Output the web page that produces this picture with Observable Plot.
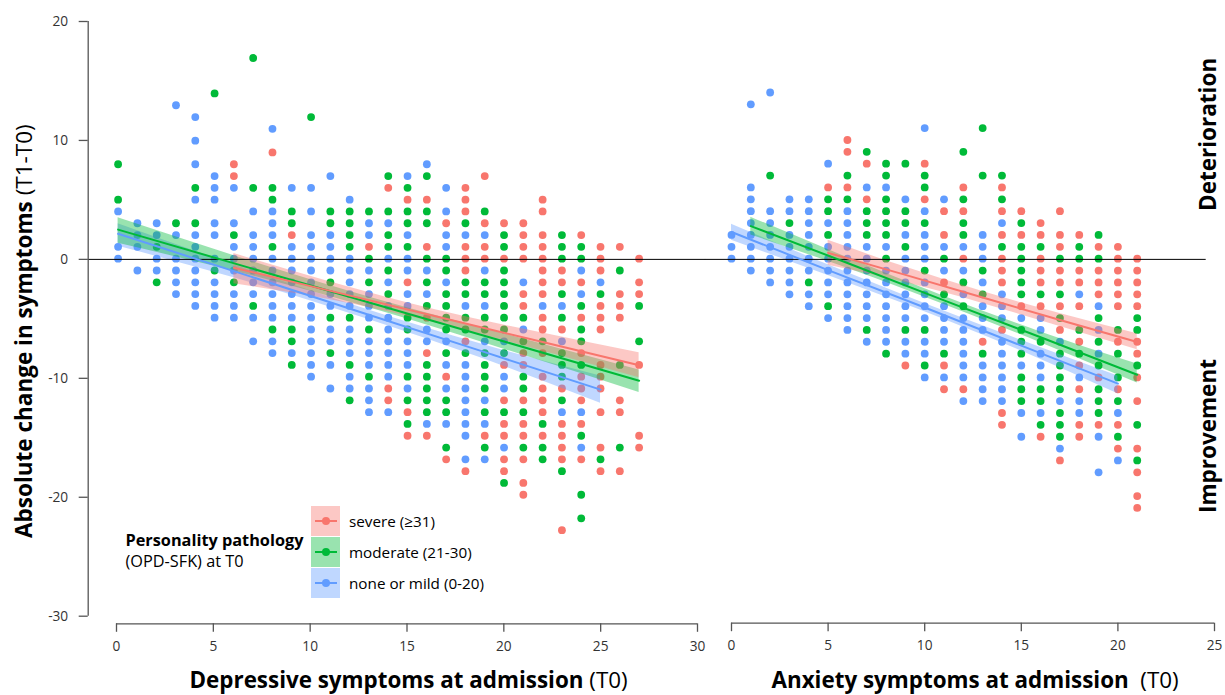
<!DOCTYPE html>
<html><head><meta charset="utf-8">
<script src="https://cdn.jsdelivr.net/npm/d3@7"></script>
<script src="https://cdn.jsdelivr.net/npm/@observablehq/plot@0.6"></script>
<style>
html,body{margin:0;padding:0;background:#fff;overflow:hidden}
#c{position:relative;width:1225px;height:695px;font-family:"Open Sans",sans-serif;overflow:hidden}
#c svg{position:absolute;top:0;background:transparent;overflow:visible}
.t{position:absolute;white-space:nowrap;line-height:1;color:#000}
.r{transform-origin:0 0;transform:rotate(-90deg)}
.b{font-weight:700}
.k{position:absolute;left:311px;width:29px;height:29.6px}
.k i{position:absolute;left:4px;right:3px;top:14px;height:2px}
.k b{position:absolute;left:11px;top:11px;width:8px;height:8px;border-radius:50%}
</style></head><body><div id="c"></div>
<script>
const colors = {severe:"#F8766D", moderate:"#00BA38", none:"#619CFF"};
const legendLabels = ["severe (\u226531)","moderate (21-30)","none or mild (0-20)"];

// [x, [y values]] – left panel, depressive symptoms
const depNone = [[0,[4,1,0]],[1,[3,2,1,-1]],[2,[3,2,0,-1]],[3,[13,2,0,-1,-2,-3]],[4,[12,10,8,5,2,1,0,-1,-2,-3,-4]],[5,[7,6,5,3,2,0,-2,-3,-4,-5]],[6,[6,3,1,0,-1,-3,-4,-5]],[7,[4,2,1,0,-1,-2,-3,-5,-7]],[8,[11,4,3,2,0,-1,-2,-3,-4,-5,-7,-8]],[9,[6,1,0,-1,-2,-3,-4,-5,-8]],[10,[6,4,2,1,0,-1,-2,-3,-4,-5,-6,-7,-8,-9,-10]],[11,[7,2,1,0,-1,-3,-4,-6,-7,-9,-11]],[12,[5,0,-1,-2,-3,-4,-6,-7,-8,-10,-11]],[13,[3,2,-1,-3,-4,-5,-7,-8,-9,-11,-12,-13]],[14,[3,0,-2,-4,-5,-6,-7,-8,-9,-10,-13]],[15,[7,2,0,-1,-3,-4,-7,-8,-9,-11]],[16,[8,-1,-3,-6,-7,-14]],[17,[6,4,2,1,-2,-7,-9,-11,-14]],[18,[2,-4,-9,-10,-11,-12,-13,-14,-15,-17]],[19,[2,-1,-4,-7,-12,-14,-17]],[20,[-7,-10,-11,-16]],[21,[-2,-6]],[22,[-4]],[23,[-4,-7,-13]],[24,[-1,-3,-13,-16]],[25,[-2]]];
const depModerate = [[0,[8,5]],[2,[1,-2]],[3,[3]],[4,[6,3]],[5,[14,-1]],[6,[2,-2]],[7,[17,6,-4]],[8,[6,5,1,-6]],[9,[4,3,-6,-7,-9]],[10,[12]],[11,[4,3,-2,-5,-8]],[12,[4,3,2,1,-5,-9,-12]],[13,[4,0,-2,-6,-10]],[14,[7,4,2,1,-1,-3]],[15,[6,4,3,1,-5,-6,-10,-12,-14]],[16,[7,4,3,0,-2,-4,-9,-10,-11,-12,-13]],[17,[0,-1,-3,-4,-5,-6,-8,-12,-13,-16]],[18,[3,-2,-3,-5,-6,-8]],[19,[4,-2,-3,-5,-6,-8,-9,-10,-11,-13,-16]],[20,[2,1,-1,-2,-3,-4,-5,-6,-8,-13,-19]],[21,[-5,-7,-10,-11,-13,-16]],[22,[-7,-14,-16,-17]],[23,[2,1,0,-3,-5,-8,-9,-10,-12,-18]],[24,[1,0,-4,-6,-7,-9,-15,-20,-22]],[25,[-3,-17]],[26,[-1,-9,-16]],[27,[-4,-7]]];
const depSevere = [[6,[8,7]],[8,[9]],[9,[2]],[13,[1]],[14,[6,-11,-12]],[15,[5,-2,-13,-15]],[16,[5,1,-5,-8,-15]],[17,[3,-10,-17]],[18,[6,5,4,1,0,-1,-7,-18]],[19,[7,3,1,0,-15]],[20,[3,0,-9,-12,-14,-15,-17,-18]],[21,[3,2,1,0,-3,-4,-8,-9,-12,-14,-15,-17,-19,-20]],[22,[5,4,2,1,0,-1,-2,-3,-5,-6,-8,-10,-11,-12,-13,-15]],[23,[-1,-2,-6,-11,-14,-15,-16,-17,-23]],[24,[2,-2,-5,-8,-10,-11,-12,-14,-17]],[25,[1,0,-1,-4,-5,-6,-9,-10,-11,-13,-16,-18]],[26,[1,-3,-4,-5,-12,-13,-18]],[27,[0,-2,-3,-9,-15,-16]]];

// right panel, anxiety symptoms
const anxNone = [[0,[2,1,0]],[1,[13,6,5,4,3,2,1,0,-1]],[2,[14,4,3,2,1,0,-1,-2]],[3,[5,4,2,1,0,-1,-2,-3]],[4,[5,4,3,2,1,0,-1,-3,-4]],[5,[8,3,1,0,-1,-2,-3,-5]],[6,[4,3,2,1,0,-1,-2,-3,-4,-5,-6]],[7,[6,1,0,-1,-2,-3,-4,-5,-7]],[8,[6,1,-1,-2,-3,-4,-5,-6,-7]],[9,[5,2,0,-1,-2,-3,-4,-5,-7,-8]],[10,[11,4,2,1,0,-2,-3,-4,-5,-7,-8,-10]],[11,[5,1,-1,-4,-5,-6,-7,-10]],[12,[1,-1,-3,-5,-6,-7,-8,-9,-10,-12]],[13,[2,1,0,-2,-4,-5,-6,-9,-10,-11,-12]],[14,[3,-3,-4,-5,-7,-8,-9,-10,-11,-12]],[15,[-5,-9,-13,-15]],[16,[-5,-6,-8,-9,-10,-13]],[17,[-7,-12,-16]],[18,[-3,-10,-12,-13]],[19,[-4,-6,-8,-15,-18]],[20,[-13,-17]]];
const anxModerate = [[2,[7]],[3,[3]],[4,[-2]],[5,[5,4,2,-4]],[6,[7,5]],[7,[9,4,3,2,-6]],[8,[8,7,5,4,3,2,0,-8]],[9,[8,4,3,1,-6]],[10,[7,6,3,-1,-6,-9]],[11,[0,-3,-8]],[12,[9,5,3,2,-2,-4]],[13,[11,7,-1,-3,-8]],[14,[7,5,1]],[15,[3,1,0,-1,-2,-3,-6,-7,-8,-10,-11,-12]],[16,[1,-3,-7,-11,-12,-14]],[17,[0,-3,-5,-8,-9,-10,-11,-13,-14,-15]],[18,[1,0,-6,-8]],[19,[2,0,-5,-7,-9,-11,-12,-13]],[20,[-6,-8,-10,-12,-15]],[21,[-5,-6,-9,-14,-17]]];
const anxSevere = [[5,[6]],[6,[10,9,6]],[7,[8,5]],[9,[-9]],[10,[8,5]],[11,[4,2,-2,-9,-11]],[12,[6,4,0,-11]],[13,[-7]],[14,[6,4,2,0,-1,-2,-6,-13,-14]],[15,[4,2,-4]],[16,[3,2,0,-1,-2,-4,-15]],[17,[4,2,1,-1,-2,-4,-6,-17]],[18,[2,-1,-2,-4,-7,-9,-11,-14,-15]],[19,[1,-1,-2,-3,-10,-14]],[20,[1,0,-1,-2,-3,-4,-7,-11,-14,-16]],[21,[0,-1,-2,-3,-4,-7,-8,-10,-12,-16,-18,-20,-21]]];

// regression fits with confidence bands: x, fit, lower, upper
const depFitNone = {x:[0,6,12.5,19,25],fit:[2.15,-0.99,-4.4,-7.8,-10.95],lo:[1.1,-1.55,-4.8,-8.4,-12.1],hi:[3,-0.45,-4,-7.2,-9.8]};
const depFitModerate = {x:[0,7,13.5,20,27],fit:[2.5,-0.8,-3.85,-6.9,-10.2],lo:[1.35,-1.4,-4.3,-7.55,-11.2],hi:[3.5,-0.2,-3.4,-6.25,-9.3]};
const depFitSevere = {x:[6,11,16.5,22,27],fit:[-0.7,-2.65,-4.8,-6.95,-8.9],lo:[-2.05,-3.4,-5.35,-7.7,-9.95],hi:[0.5,-1.9,-4.25,-6.2,-7.85]};
const anxFitNone = {x:[0,5,10,15,20],fit:[2.3,-0.9,-4.05,-7.25,-10.45],lo:[1.6,-1.35,-4.4,-7.7,-11.3],hi:[2.95,-0.45,-3.7,-6.8,-9.8]};
const anxFitModerate = {x:[1,6,11,16,21],fit:[2.8,-0.3,-3.45,-6.55,-9.7],lo:[2.05,-0.75,-3.8,-7,-10.4],hi:[3.55,0.15,-3.1,-6.1,-8.8]};
const anxFitSevere = {x:[5,9,13,17,21],fit:[0.55,-1.3,-3.2,-5.1,-6.95],lo:[-0.5,-1.95,-3.7,-5.65,-7.6],hi:[1.6,-0.65,-2.7,-4.55,-6.25]};

const yTicks = [20,10,0,-10,-20,-30];
const flat = cols => cols.flatMap(([x,ys]) => ys.map(y => ({x,y})));
const fitRows = f => f.x.map((x,i) => ({x,fit:f.fit[i],lo:f.lo[i],hi:f.hi[i]}));
const axisColor = "#555";

function panel({width,left,range,domain,xTicks,series,fx,fy,zero,yAxis,xDy}){
  const marks = [];
  for (const [cols,c] of series) marks.push(Plot.dot(flat(cols),{x:d=>fx(d.x),y:d=>fy(d.y),r:3.9,fill:colors[c],stroke:"none"}));
  for (const [,c,f] of series){
    const rows = fitRows(f);
    marks.push(Plot.areaY(rows,{x:d=>fx(d.x),y1:"lo",y2:"hi",fill:colors[c],fillOpacity:0.4,curve:"monotone-x"}));
  }
  marks.push(Plot.ruleY([0],{x1:zero[0],x2:zero[1],stroke:"#000",strokeWidth:1}));
  for (const [,c,f] of series){
    const rows = fitRows(f);
    marks.push(Plot.line(rows,{x:d=>fx(d.x),y:"fit",stroke:colors[c],strokeWidth:2,curve:"linear"}));
  }
  marks.push(Plot.ruleY([-30],{x1:domain[0],x2:domain[1],stroke:axisColor,strokeWidth:1.3,dy:xDy}));
  marks.push(Plot.axisX({ticks:xTicks,tickFormat:String,tickSize:8.5,tickPadding:9,dy:xDy,stroke:axisColor,strokeWidth:1.3,color:"#333",fontSize:13.7,label:null,anchor:"bottom"}));
  if (yAxis){
    marks.push(Plot.ruleX([0],{y1:-30,y2:20,stroke:axisColor,strokeWidth:1.3,dx:-28.3}));
    marks.push(Plot.axisY({ticks:yTicks,tickFormat:String,tickSize:9,tickPadding:11,dx:-28.3,stroke:axisColor,strokeWidth:1.3,color:"#333",fontSize:13.7,label:null,anchor:"left"}));
  }
  const svg = Plot.plot({width,height:695,margin:0,marginLeft:range[0],marginRight:width-range[1],marginTop:21,marginBottom:79.3,
    style:{fontFamily:'"Open Sans",sans-serif',background:"transparent",overflow:"visible"},
    x:{domain,range,axis:null},
    y:{domain:[-30,20],range:[615.7,21],axis:null},
    marks});
  svg.style.left = left+"px";
  return svg;
}

const c = document.getElementById("c");
c.appendChild(panel({width:705,left:0,range:[116,697],domain:[0,30],xTicks:[0,5,10,15,20,25,30],
  series:[[depNone,"none",depFitNone],[depModerate,"moderate",depFitModerate],[depSevere,"severe",depFitSevere]],
  fx:x=>0.0826+0.9964*x, fy:y=>0.059+0.9924*y, zero:[-1.47,30.42], yAxis:true, xDy:7.6}));
c.appendChild(panel({width:520,left:705,range:[26,509],domain:[0,25],xTicks:[0,5,10,15,20,25],
  series:[[anxNone,"none",anxFitNone],[anxModerate,"moderate",anxFitModerate],[anxSevere,"severe",anxFitSevere]],
  fx:x=>x, fy:y=>0.059+0.998*y, zero:[-1.35,24.57], yAxis:false, xDy:7}));

function txt(html,x,y,size,cls){const d=document.createElement("div");d.className="t "+(cls||"");d.innerHTML=html;d.style.left=x+"px";d.style.top=y+"px";d.style.fontSize=size+"px";c.appendChild(d);return d;}
txt('<span class="b">Absolute change in symptoms</span> (T1-T0)',12.5,537.5,22.5,"r");
txt('<span class="b">Depressive symptoms at admission</span> (T0)',189.5,668.5,22.4);
txt('<span class="b">Anxiety symptoms at admission</span>&nbsp; (T0)',771.5,668.5,22.4);
txt('Deterioration',1196.5,210.5,22.5,"r b");
txt('Improvement',1196.5,512.5,22.5,"r b");
txt('Personality pathology',125.5,532,16.3,"b");
txt('(OPD-SFK) at T0',125.5,552.5,16.3);
const keyTops=[506,537,568], keyC=["severe","moderate","none"], keyBg=["#FCC8C5","#99E3AF","#BFD7FF"];
keyTops.forEach((t,i)=>{
  const k=document.createElement("div");k.className="k";k.style.top=t+"px";k.style.background=keyBg[i];
  k.innerHTML=`<i style="background:${colors[keyC[i]]}"></i><b style="background:${colors[keyC[i]]}"></b>`;
  c.appendChild(k);
  txt(legendLabels[i],349,t+8,15.25);
});
</script></body></html>
